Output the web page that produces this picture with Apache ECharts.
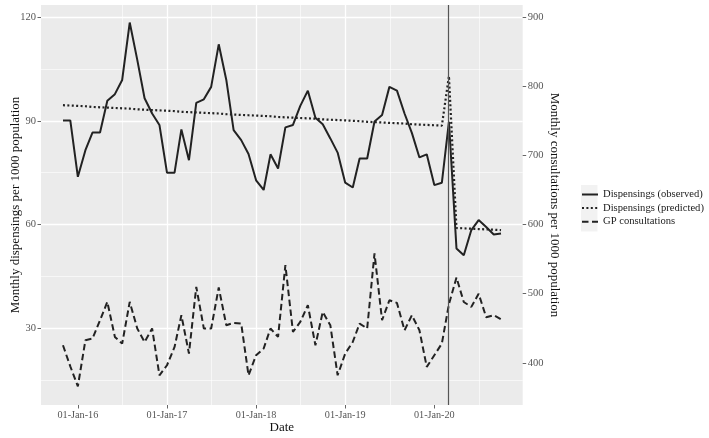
<!DOCTYPE html>
<html>
<head>
<meta charset="utf-8">
<script src="https://cdn.jsdelivr.net/npm/echarts@6/dist/echarts.min.js"></script>
<style>
html,body{margin:0;padding:0;background:#fff;}
#c{width:709px;height:438px;}
</style>
</head>
<body>
<div id="c"></div>
<script>
// ---- data (monthly, Nov 2015 .. Oct 2020) ----
const startYear = 2015, startMonth = 11, nMonths = 60;
const months = [];
for (let i = 0; i < nMonths; i++) {
  const t = startMonth - 1 + i;
  months.push([startYear + Math.floor(t / 12), (t % 12) + 1]);
}
const dispensingsObserved = [
  90.1, 90.1, 73.8, 81.5, 86.6, 86.6, 95.8, 97.7, 101.8, 118.4, 107.6, 96.5,
  92.1, 88.8, 75.0, 75.0, 87.5, 78.6, 95.2, 96.2, 99.8, 112.1, 101.8, 87.3,
  84.4, 80.4, 72.8, 70.0, 80.3, 76.2, 88.1, 88.8, 94.3, 98.7, 90.9, 89.0,
  84.9, 80.8, 72.1, 70.7, 79.1, 79.1, 89.8, 91.7, 99.8, 98.7, 92.1, 86.5,
  79.4, 80.3, 71.4, 72.1, 89.7, 53.1, 51.1, 58.4, 61.3, 59.3, 57.1, 57.4
];
const dispensingsPredicted = [
  94.5, 94.4, 94.3, 94.2, 94.0, 93.9, 93.8, 93.7, 93.6, 93.5, 93.3, 93.2,
  93.1, 93.0, 92.9, 92.8, 92.6, 92.5, 92.4, 92.3, 92.2, 92.1, 91.9, 91.8,
  91.7, 91.6, 91.5, 91.4, 91.3, 91.1, 91.0, 90.9, 90.8, 90.7, 90.6, 90.4,
  90.3, 90.2, 90.1, 90.0, 89.9, 89.7, 89.6, 89.5, 89.4, 89.3, 89.2, 89.0,
  88.9, 88.8, 88.7, 88.6, 102.9, 59.0, 58.9, 58.8, 58.7, 58.6, 58.5, 58.4
];
const gpConsultations = [
  425.5, 395.0, 366.2, 432.8, 435.2, 461.7, 488.2, 437.6, 427.9, 488.2, 449.7, 430.3,
  449.7, 382.1, 396.6, 423.1, 468.9, 413.5, 509.9, 449.7, 449.7, 509.0, 454.5, 457.8,
  456.9, 382.1, 411.1, 420.8, 449.7, 437.6, 541.3, 444.8, 459.2, 483.4, 425.5, 473.7,
  454.5, 382.1, 413.5, 430.3, 456.9, 449.7, 558.2, 461.7, 490.6, 486.7, 447.2, 468.9,
  447.2, 394.2, 411.1, 428.0, 485.0, 523.4, 488.0, 481.0, 500.0, 466.0, 469.0, 463.0
];
const interventionDate = [2020, 3];
const xTickYears = [2016, 2017, 2018, 2019, 2020];
const seriesNames = ['Dispensings (observed)', 'Dispensings (predicted)', 'GP consultations'];

// ---- helpers ----
function toYear(y, m, d) {
  d = d || 1;
  const a = Date.UTC(y, 0, 1), b = Date.UTC(y + 1, 0, 1);
  return y + (Date.UTC(y, m - 1, d) - a) / (b - a);
}
const xs = months.map(ym => toYear(ym[0], ym[1]));
const pair = arr => arr.map((v, i) => [xs[i], v]);

const xMin = toYear(2015, 8, 3), xMax = toYear(2020, 12, 29);
const yMin = 7.83, yMax = 123.47;
const y2Min = yMin * 5 + 300, y2Max = yMax * 5 + 300;

const FONT = 'Liberation Serif';
const tickColor = '#555555';

const chart = echarts.init(document.getElementById('c'), null, {renderer: 'canvas'});
chart.setOption({
  animation: false,
  backgroundColor: '#ffffff',
  graphic: [{
    type: 'rect', z: -1,
    shape: {x: 581, y: 185, width: 16.5, height: 46.5},
    style: {fill: '#F2F2F2'}
  }],
  grid: {left: 41, right: 186.3, top: 5, bottom: 33, show: true, backgroundColor: '#EBEBEB', borderWidth: 0,
         containLabel: false, outerBoundsMode: 'none'},
  legend: {
    orient: 'vertical', left: 576, top: 184, padding: 5,
    itemWidth: 16, itemHeight: 12, itemGap: 2.6,
    data: seriesNames,
    itemStyle: {opacity: 0},
    textStyle: {fontFamily: FONT, fontSize: 10.6, color: '#1a1a1a'}
  },
  xAxis: [{
    type: 'value', min: xMin, max: xMax, splitNumber: 5,
    name: 'Date', nameLocation: 'middle', nameGap: 16, nameMoveOverlap: false,
    nameTextStyle: {fontFamily: FONT, fontSize: 13, color: '#111', verticalAlign: 'top'},
    axisLine: {show: false},
    axisTick: {show: true, length: 3.5, lineStyle: {color: '#666'}, customValues: xTickYears},
    axisLabel: {
      margin: 5,
      fontFamily: FONT, fontSize: 10.2, color: tickColor,
      customValues: xTickYears,
      formatter: v => '01-Jan-' + String(Math.round(v)).slice(2)
    },
    splitLine: {show: true, showMinLine: false, showMaxLine: false, lineStyle: {color: '#ffffff', width: 1.3}}
  }, {
    type: 'value', min: xMin + 0.5, max: xMax + 0.5, splitNumber: 5, position: 'bottom',
    axisLine: {show: false}, axisTick: {show: false}, axisLabel: {show: false},
    splitLine: {show: true, showMinLine: false, showMaxLine: false, lineStyle: {color: '#ffffff', width: 0.6}}
  }],
  yAxis: [{
    type: 'value', min: yMin, max: yMax, splitNumber: 4, position: 'left',
    name: 'Monthly dispensings per 1000 population', nameLocation: 'middle', nameGap: 19, nameRotate: 90,
    nameMoveOverlap: false,
    nameTextStyle: {fontFamily: FONT, fontSize: 13, color: '#111'},
    axisLine: {show: false},
    axisTick: {show: true, length: 3.5, lineStyle: {color: '#666'}},
    axisLabel: {showMinLabel: false, showMaxLabel: false, margin: 5, fontFamily: FONT, fontSize: 10.5, color: tickColor},
    splitLine: {show: true, showMinLine: false, showMaxLine: false, lineStyle: {color: '#ffffff', width: 1.3}}
  }, {
    type: 'value', min: y2Min, max: y2Max, splitNumber: 6, position: 'right',
    name: 'Monthly consultations per 1000 population', nameLocation: 'middle', nameGap: 25, nameRotate: -90,
    nameMoveOverlap: false,
    nameTextStyle: {fontFamily: FONT, fontSize: 13, color: '#111'},
    axisLine: {show: false},
    axisTick: {show: true, length: 3.5, lineStyle: {color: '#666'}},
    axisLabel: {showMinLabel: false, showMaxLabel: false, margin: 5, fontFamily: FONT, fontSize: 10.5, color: tickColor},
    splitLine: {show: false}
  }, {
    type: 'value', min: yMin + 15, max: yMax + 15, splitNumber: 4, position: 'left',
    axisLine: {show: false}, axisTick: {show: false}, axisLabel: {show: false},
    splitLine: {show: true, showMinLine: false, showMaxLine: false, lineStyle: {color: '#ffffff', width: 0.6}}
  }],
  series: [{
    name: seriesNames[0], type: 'line', xAxisIndex: 0, yAxisIndex: 0,
    data: pair(dispensingsObserved), symbol: 'none', z: 3,
    lineStyle: {color: '#222', width: 2, type: 'solid'},
    itemStyle: {color: '#222'},
    markLine: {
      silent: true, symbol: 'none', label: {show: false},
      lineStyle: {color: '#555', width: 1.2, type: 'solid'},
      data: [{xAxis: toYear(interventionDate[0], interventionDate[1])}]
    }
  }, {
    name: seriesNames[1], type: 'line', xAxisIndex: 0, yAxisIndex: 0,
    data: pair(dispensingsPredicted), symbol: 'none', z: 3,
    lineStyle: {color: '#222', width: 2.2, type: [2, 2.4], cap: 'butt'},
    itemStyle: {color: '#222'}
  }, {
    name: seriesNames[2], type: 'line', xAxisIndex: 0, yAxisIndex: 1,
    data: pair(gpConsultations), symbol: 'none', z: 3,
    lineStyle: {color: '#222', width: 2, type: [6.5, 3.5], cap: 'butt'},
    itemStyle: {color: '#222'}
  }]
});
</script>
</body>
</html>
